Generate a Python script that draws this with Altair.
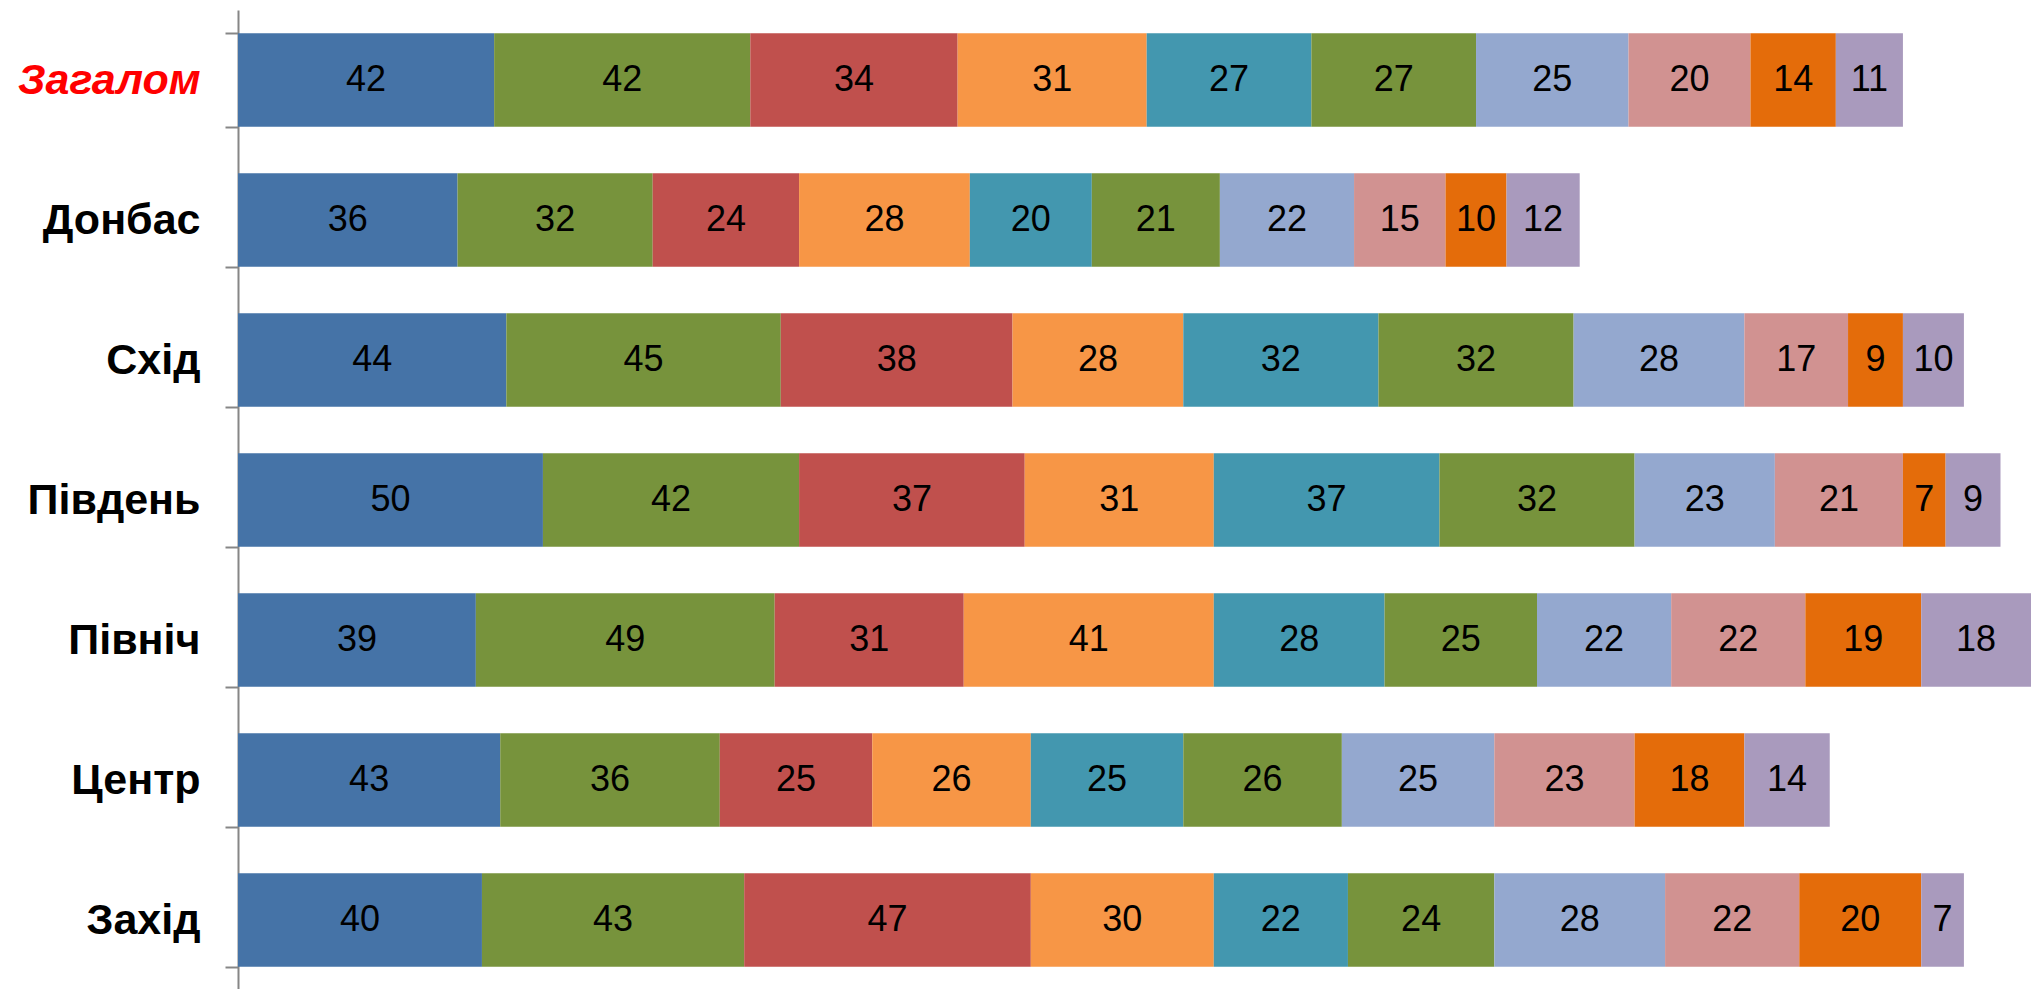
import altair as alt
import pandas as pd

regions = ["Загалом", "Донбас", "Схід", "Південь", "Північ", "Центр", "Захід"]
series = ["s01", "s02", "s03", "s04", "s05", "s06", "s07", "s08", "s09", "s10"]
colors = ["#4573A7", "#77933C", "#C0504D", "#F79646", "#4397AF",
          "#77933C", "#94A8CF", "#D19291", "#E46C0A", "#A99ABD"]

v_zagalom = [42, 42, 34, 31, 27, 27, 25, 20, 14, 11]
v_donbas = [36, 32, 24, 28, 20, 21, 22, 15, 10, 12]
v_skhid = [44, 45, 38, 28, 32, 32, 28, 17, 9, 10]
v_pivden = [50, 42, 37, 31, 37, 32, 23, 21, 7, 9]
v_pivnich = [39, 49, 31, 41, 28, 25, 22, 22, 19, 18]
v_tsentr = [43, 36, 25, 26, 25, 26, 25, 23, 18, 14]
v_zakhid = [40, 43, 47, 30, 22, 24, 28, 22, 20, 7]

all_vals = [v_zagalom, v_donbas, v_skhid, v_pivden, v_pivnich, v_tsentr, v_zakhid]

rows = []
for r, vals in zip(regions, all_vals):
    for i, (s, v) in enumerate(zip(series, vals)):
        rows.append({"region": r, "series": s, "idx": i, "value": v})
df = pd.DataFrame(rows)

base = alt.Chart(df).transform_stack(
    stack="value", groupby=["region"], as_=["x0", "x1"],
    sort=[alt.SortField("idx", order="ascending")]
).transform_calculate(mid="(datum.x0 + datum.x1) / 2")

yenc = alt.Y(
    "region:N", sort=regions, title=None,
    scale=alt.Scale(paddingInner=1/3, paddingOuter=1/6),
    axis=alt.Axis(
        tickBand="extent", domainColor="#868686", domainWidth=2,
        tickColor="#868686", tickWidth=2, tickSize=13, labelPadding=25,
        labelFont="Liberation Sans", labelFontSize=43, labelFontWeight="bold",
        labelColor={"expr": "datum.value == 'Загалом' ? '#FF0000' : '#000000'"},
        labelFontStyle={"expr": "datum.value == 'Загалом' ? 'italic' : 'normal'"},
        labelLimit=400, grid=False,
    ),
)

xscale = alt.Scale(domain=[0, 294], nice=False, zero=True)

bars = base.mark_bar(stroke=None).encode(
    x=alt.X("x0:Q", scale=xscale, axis=None),
    x2="x1:Q",
    y=yenc,
    color=alt.Color("series:N", scale=alt.Scale(domain=series, range=colors), legend=None),
)

texts = base.mark_text(font="Liberation Sans", fontSize=36, color="#000000",
                       baseline="middle", align="center").encode(
    x=alt.X("mid:Q", scale=xscale, axis=None),
    y=alt.Y("region:N", sort=regions),
    text="value:Q",
)

chart = alt.layer(bars, texts).properties(
    width=1793, height=980,
    autosize=alt.AutoSizeParams(type="none"),
    padding={"left": 230, "top": 2, "right": 0, "bottom": 0},
).configure_view(stroke=None)

chart.save("out.html", embed_options={"renderer": "svg", "actions": False})
